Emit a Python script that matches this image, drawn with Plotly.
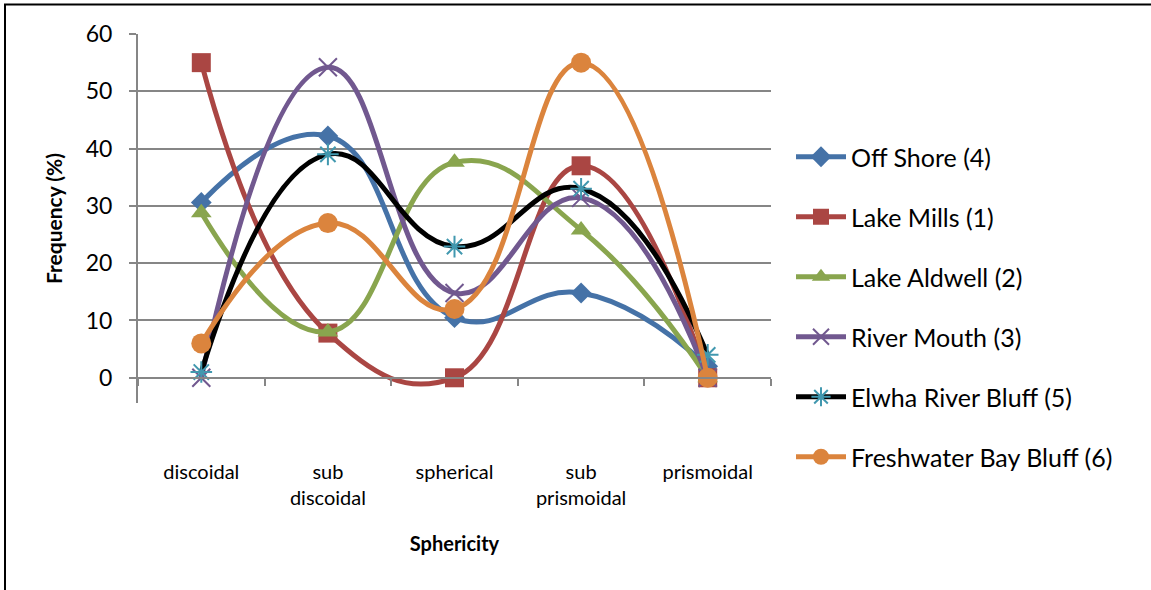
import plotly.graph_objects as go

# sphericity classes and frequency (%) per sampling site
categories = ["discoidal", "sub<br>discoidal", "spherical", "sub<br>prismoidal", "prismoidal"]

off_shore = [30.6, 42.2, 10.5, 14.8, 2.0]
lake_mills = [55.0, 7.8, 0.0, 37.0, 0.0]
lake_aldwell = [28.8, 8.0, 37.6, 25.8, 0.0]
river_mouth = [0.0, 54.2, 14.8, 31.4, 0.0]
elwha_bluff = [1.0, 39.0, 22.9, 33.0, 4.0]
freshwater_bluff = [6.0, 27.0, 12.0, 55.0, 0.0]

FONT = "Lato"
GRID = "#868686"

series = [
    ("Off Shore (4)", off_shore, "#4572A7", dict(symbol="diamond", size=16, color="#4572A7")),
    ("Lake Mills (1)", lake_mills, "#AA4643", dict(symbol="square", size=19, color="#AA4643")),
    ("Lake Aldwell (2)", lake_aldwell, "#89A54E", dict(symbol="triangle-up", size=18, color="#89A54E")),
    ("River Mouth (3)", river_mouth, "#71588F",
     dict(symbol="x-thin-open", size=18, color="#71588F", line=dict(color="#71588F", width=2))),
    ("Elwha River Bluff (5)", elwha_bluff, "#000000",
     dict(symbol="asterisk-open", size=18, color="#4198AF", line=dict(color="#4198AF", width=2))),
    ("Freshwater Bay Bluff (6)", freshwater_bluff, "#DB843D", dict(symbol="circle", size=20, color="#DB843D")),
]

fig = go.Figure()
for i, (name, vals, col, mk) in enumerate(series):
    fig.add_trace(go.Scatter(
        x=categories, y=vals, name=name, mode="lines+markers",
        line=dict(color=col, width=5, shape="spline", smoothing=1.3),
        marker=mk, legendgroup=f"g{i}", cliponaxis=False,
    ))

# plot area in the page: x 138..771, y 34..403 px (body margin removed below)
L, R, T, B = 138, 771, 34, 403
W, H = 1151, 590
pw, ph = R - L, B - T
zero_pos = (B - 378) / ph

fig.update_layout(
    width=W, height=H,
    margin=dict(l=L, r=W - R, t=T, b=H - B),
    paper_bgcolor="white", plot_bgcolor="white",
    font=dict(family=FONT, color="black"),
    showlegend=True,
    legend=dict(
        x=(791 - L) / pw, xanchor="left", y=(B - 134) / ph, yanchor="top",
        font=dict(size=25, family=FONT), tracegroupgap=24.5, itemwidth=50,
        bgcolor="rgba(0,0,0,0)",
    ),
    xaxis=dict(
        type="category", anchor="free", position=zero_pos,
        showline=True, linecolor=GRID, linewidth=2,
        ticks="outside", tickson="boundaries", ticklen=7, tickcolor=GRID, tickwidth=2,
        showgrid=False, tickfont=dict(size=20), ticklabelstandoff=76,
        title=dict(text="<b>Sphericity</b>", font=dict(size=20), standoff=28),
        range=[-0.5, 4.5], fixedrange=True,
    ),
    yaxis=dict(
        range=[-4.4, 60], tickvals=[0, 10, 20, 30, 40, 50, 60],
        showgrid=True, gridcolor=GRID, gridwidth=2, zeroline=False,
        showline=True, linecolor=GRID, linewidth=2,
        ticks="outside", ticklen=7, tickcolor=GRID, tickwidth=2,
        tickfont=dict(size=23), ticklabelstandoff=12,
        title=dict(text="<b>Frequency (%)</b>", font=dict(size=21), standoff=17),
    ),
    shapes=[dict(
        type="rect", xref="paper", yref="paper",
        x0=(5 - L) / pw, x1=(1170 - L) / pw, y0=(B - 620) / ph, y1=(B - 4.5) / ph,
        line=dict(color="black", width=2), fillcolor="rgba(0,0,0,0)", layer="below",
    )],
)

fig.write_html("out.html", config={"displayModeBar": False},
               post_script="document.body.style.margin='0';")
